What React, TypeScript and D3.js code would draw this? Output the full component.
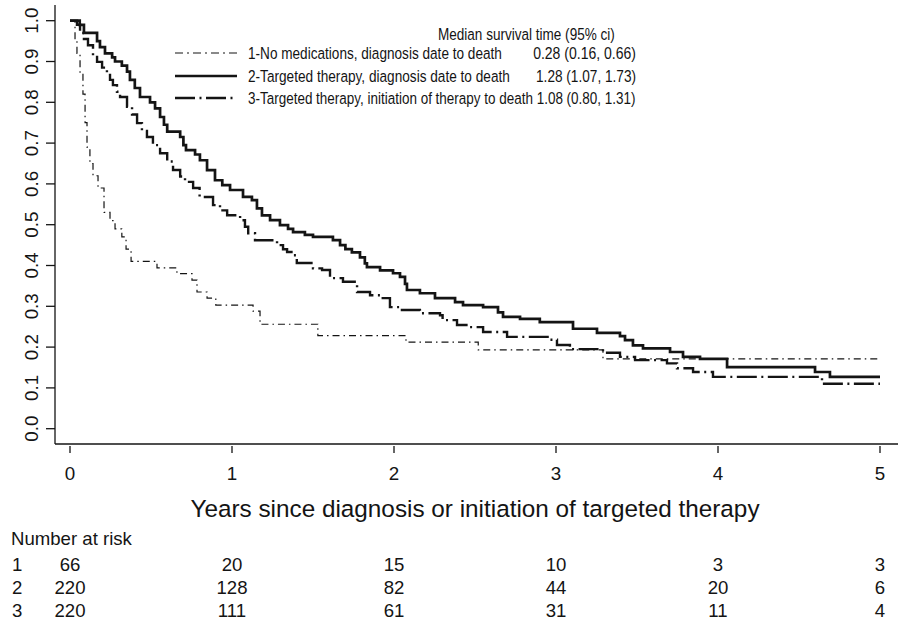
import { useLayoutEffect, useRef } from 'react';
import * as d3 from 'd3';

// Kaplan-Meier steps: [years, survival after the step]
const noMedSteps: [number, number][] = [
  [0.031, 0.95], [0.043, 0.92], [0.062, 0.87], [0.08, 0.82], [0.093, 0.75],
  [0.105, 0.69], [0.123, 0.65], [0.142, 0.62], [0.173, 0.59], [0.21, 0.53],
  [0.247, 0.51], [0.278, 0.49], [0.32, 0.47], [0.346, 0.44], [0.377, 0.41],
  [0.537, 0.394], [0.66, 0.38], [0.753, 0.364], [0.784, 0.335], [0.846, 0.32],
  [0.9, 0.303], [1.13, 0.288], [1.173, 0.256], [1.53, 0.228], [2.074, 0.212],
  [2.52, 0.193], [3.29, 0.171],
];

const targetedDiagSteps: [number, number][] = [
  [0.06, 0.99], [0.086, 0.97], [0.167, 0.95], [0.185, 0.935], [0.216, 0.92],
  [0.26, 0.91], [0.278, 0.9], [0.32, 0.89], [0.352, 0.875], [0.37, 0.855],
  [0.4, 0.835], [0.432, 0.813], [0.494, 0.8], [0.525, 0.785], [0.556, 0.764],
  [0.58, 0.745], [0.6, 0.728], [0.68, 0.715], [0.7, 0.695], [0.716, 0.683],
  [0.772, 0.672], [0.802, 0.658], [0.846, 0.634], [0.895, 0.609], [0.94, 0.597],
  [0.988, 0.585], [1.068, 0.568], [1.123, 0.56], [1.154, 0.54], [1.185, 0.523],
  [1.235, 0.511], [1.296, 0.499], [1.346, 0.49], [1.377, 0.482], [1.45, 0.475],
  [1.5, 0.47], [1.623, 0.462], [1.667, 0.45], [1.7, 0.44], [1.74, 0.432],
  [1.79, 0.42], [1.82, 0.405], [1.833, 0.396], [1.914, 0.388], [1.994, 0.381],
  [2.037, 0.372], [2.068, 0.355], [2.08, 0.34], [2.16, 0.332], [2.253, 0.32],
  [2.377, 0.31], [2.426, 0.303], [2.55, 0.298], [2.642, 0.285], [2.673, 0.274],
  [2.778, 0.269], [2.9, 0.261], [3.105, 0.245], [3.253, 0.235], [3.395, 0.227],
  [3.426, 0.217], [3.475, 0.204], [3.537, 0.197], [3.704, 0.188], [3.784, 0.176],
  [3.889, 0.171], [4.056, 0.151], [4.599, 0.139], [4.691, 0.127],
];

const targetedInitSteps: [number, number][] = [
  [0.043, 0.99], [0.062, 0.97], [0.086, 0.955], [0.111, 0.94], [0.142, 0.915],
  [0.167, 0.899], [0.198, 0.885], [0.228, 0.871], [0.247, 0.855], [0.265, 0.842],
  [0.29, 0.826], [0.309, 0.813], [0.352, 0.789], [0.383, 0.77], [0.414, 0.749],
  [0.444, 0.73], [0.475, 0.715], [0.512, 0.695], [0.556, 0.675], [0.6, 0.655],
  [0.636, 0.634], [0.68, 0.618], [0.71, 0.605], [0.76, 0.59], [0.8, 0.568],
  [0.883, 0.548], [0.926, 0.535], [0.97, 0.523], [1.05, 0.511], [1.08, 0.495],
  [1.1, 0.479], [1.142, 0.462], [1.278, 0.45], [1.315, 0.44], [1.34, 0.433],
  [1.377, 0.425], [1.4, 0.406], [1.5, 0.393], [1.556, 0.389], [1.605, 0.369],
  [1.685, 0.36], [1.772, 0.335], [1.852, 0.327], [1.914, 0.32], [1.975, 0.298],
  [2.037, 0.291], [2.16, 0.283], [2.284, 0.278], [2.3, 0.266], [2.389, 0.254],
  [2.469, 0.249], [2.55, 0.237], [2.698, 0.225], [2.963, 0.218], [3.006, 0.205],
  [3.086, 0.195], [3.29, 0.186], [3.395, 0.176], [3.488, 0.168], [3.685, 0.16],
  [3.747, 0.148], [3.846, 0.139], [3.969, 0.127], [4.642, 0.11],
];

const xTicks = [0, 1, 2, 3, 4, 5];
const yTicks = d3.range(0, 11).map((i) => i / 10);

const legendLabels = [
  '1-No medications, diagnosis date to death',
  '2-Targeted therapy, diagnosis date to death',
  '3-Targeted therapy, initiation of therapy to death',
];
const medianLabels = ['0.28 (0.16, 0.66)', '1.28 (1.07, 1.73)', '1.08 (0.80, 1.31)'];

const riskTimes = [0, 1, 2, 3, 4, 5];
const riskGroups = ['1', '2', '3'];
const riskCounts = [
  [66, 20, 15, 10, 3, 3],
  [220, 128, 82, 44, 20, 6],
  [220, 111, 61, 31, 11, 4],
];

const font = '"Liberation Sans", Arial, sans-serif';
const ink = '#141414';

const styles = [
  { width: 1.2, dash: '7 4 1.5 4' },
  { width: 2.7, dash: 'none' },
  { width: 2.4, dash: '20 4.5 2 4.5' },
];

export default function App() {
  const svgRef = useRef<SVGSVGElement>(null);

  const x = d3.scaleLinear().domain([0, 5]).range([70, 880]);
  const y = d3.scaleLinear().domain([0, 1]).range([428.7, 20.7]);

  const line = d3
    .line<[number, number]>()
    .x((d) => x(d[0]))
    .y((d) => y(d[1]))
    .curve(d3.curveStepAfter);

  const pathFor = (steps: [number, number][]) => {
    const pts: [number, number][] = [[0, 1], ...steps, [5, steps[steps.length - 1][1]]];
    return line(pts) ?? '';
  };

  const curves = [noMedSteps, targetedDiagSteps, targetedInitSteps];

  // legend geometry (the legend type is narrower than the rest, so squeeze it)
  const legendY = [53, 76, 98];
  const labelWidths = [254, 262, 388];
  const medianWidths = [103, 100];

  useLayoutEffect(() => {
    if (!svgRef.current) return;
    d3.select(svgRef.current)
      .selectAll<SVGTextElement, unknown>('text.fit')
      .each(function () {
        const el = d3.select(this);
        const w = +el.attr('data-w');
        const len = this.getComputedTextLength();
        const k = len > 0 ? w / len : 1;
        el.attr('transform', `translate(${el.attr('data-x')},${el.attr('data-y')}) scale(${k},1)`);
      });
  }, []);

  return (
    <svg
      ref={svgRef}
      width={898}
      height={620}
      style={{ position: 'absolute', left: 0, top: 0, background: '#fff' }}
      fontFamily={font}
    >
      {/* axes */}
      <line x1={55} x2={55} y1={5} y2={444} stroke={ink} strokeWidth={1.3} />
      <line x1={55} x2={898} y1={444} y2={444} stroke={ink} strokeWidth={1.3} />
      {yTicks.map((t) => (
        <g key={`y${t}`}>
          <line x1={46} x2={55} y1={y(t)} y2={y(t)} stroke={ink} strokeWidth={1.3} />
          <text
            transform={`translate(37.5,${y(t)}) rotate(-90)`}
            textAnchor="middle"
            fontSize={18.8}
            fill={ink}
          >
            {t.toFixed(1)}
          </text>
        </g>
      ))}
      {xTicks.map((t) => (
        <g key={`x${t}`}>
          <line x1={x(t)} x2={x(t)} y1={446} y2={453} stroke={ink} strokeWidth={1.3} />
          <text x={x(t)} y={480} textAnchor="middle" fontSize={18.8} fill={ink}>
            {t}
          </text>
        </g>
      ))}
      <text x={x(2.5)} y={517} textAnchor="middle" fontSize={24.3} fill={ink}>
        Years since diagnosis or initiation of targeted therapy
      </text>

      {/* survival curves */}
      {curves.map((c, i) => (
        <path
          key={`c${i}`}
          d={pathFor(c)}
          fill="none"
          stroke={ink}
          strokeWidth={styles[i].width}
          strokeDasharray={styles[i].dash}
        />
      ))}

      {/* legend */}
      <text
        className="fit"
        data-x={438}
        data-y={40}
        data-w={177}
        transform="translate(438,40)"
        fontSize={16.5}
        fill={ink}
      >
        Median survival time (95% ci)
      </text>
      {legendLabels.map((lab, i) => (
        <g key={`l${i}`}>
          <line
            x1={175}
            x2={237}
            y1={legendY[i]}
            y2={legendY[i]}
            stroke={ink}
            strokeWidth={styles[i].width}
            strokeDasharray={i === 0 ? '8 4 2 4' : styles[i].dash}
          />
          <text
            className="fit"
            data-x={248}
            data-y={legendY[i] + 6}
            data-w={labelWidths[i]}
            transform={`translate(248,${legendY[i] + 6})`}
            fontSize={16.5}
            fill={ink}
          >
            {i === 2 ? `${lab} ${medianLabels[i]}` : lab}
          </text>
          {i < 2 && (
            <text
              className="fit"
              data-x={636}
              data-y={legendY[i] + 6}
              data-w={medianWidths[i]}
              transform={`translate(636,${legendY[i] + 6})`}
              fontSize={16.5}
              fill={ink}
              textAnchor="end"
            >
              {medianLabels[i]}
            </text>
          )}
        </g>
      ))}

      {/* number at risk */}
      <text x={11} y={545} fontSize={18.6} fill={ink}>
        Number at risk
      </text>
      {riskGroups.map((g, i) => (
        <g key={`r${g}`}>
          <text x={12} y={570.5 + i * 23} fontSize={18.6} fill={ink}>
            {g}
          </text>
          {riskCounts[i].map((n, j) => (
            <text
              key={j}
              x={x(riskTimes[j])}
              y={570.5 + i * 23}
              textAnchor="middle"
              fontSize={18.6}
              fill={ink}
            >
              {n}
            </text>
          ))}
        </g>
      ))}
    </svg>
  );
}
